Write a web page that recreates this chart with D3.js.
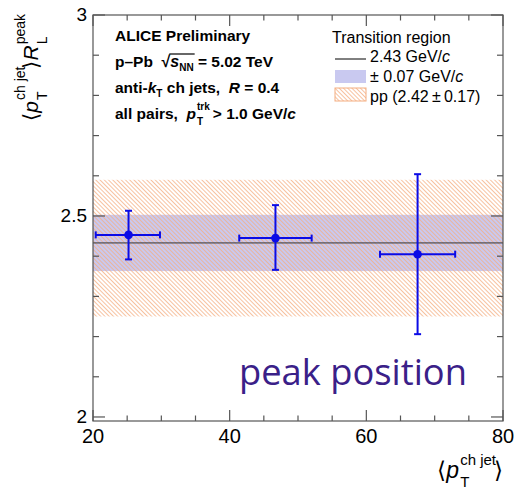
<!DOCTYPE html>
<html>
<head>
<meta charset="utf-8">
<script src="https://cdn.jsdelivr.net/npm/d3@7"></script>
<style>
  body { margin: 0; background: #fff; }
  text { font-family: "Liberation Sans", Arial, sans-serif; white-space: pre; }
</style>
</head>
<body>
<svg id="chart" width="515" height="489"></svg>
<script>
// data
const ptJet = [25.2, 46.7, 67.5];
const ptLow = [20.4, 41.4, 62.0];
const ptHigh = [29.8, 52.0, 73.0];
const peakVal = [2.453, 2.445, 2.405];
const peakLow = [2.392, 2.366, 2.206];
const peakHigh = [2.513, 2.527, 2.604];

const transMean = 2.433;
const transErr = 0.07;
const ppMean = 2.42;
const ppErr = 0.17;

const xTicks = [20, 40, 60, 80];
const yTicks = [2, 2.5, 3];

const svg = d3.select("#chart");
const pLeft = 93, pRight = 503, pTop = 15, pBottom = 421;

const x = d3.scaleLinear().domain([20, 80]).range([pLeft, pRight]);
const y = d3.scaleLinear().domain([1.99, 3]).range([pBottom, pTop]);

// hatch pattern
svg.append("defs").append("pattern")
  .attr("id", "hatch")
  .attr("patternUnits", "userSpaceOnUse")
  .attr("width", 3).attr("height", 3)
  .attr("patternTransform", "rotate(-45)")
  .append("line")
    .attr("x1", 0.5).attr("y1", 0).attr("x2", 0.5).attr("y2", 3)
    .attr("stroke", "#f4ad80").attr("stroke-width", 0.75);

// blue band, then hatched pp band on top
svg.append("rect")
  .attr("x", pLeft).attr("width", pRight - pLeft)
  .attr("y", y(transMean + transErr))
  .attr("height", y(transMean - transErr) - y(transMean + transErr))
  .attr("fill", "#c9c9f0");

svg.append("rect")
  .attr("x", pLeft).attr("width", pRight - pLeft)
  .attr("y", y(ppMean + ppErr))
  .attr("height", y(ppMean - ppErr) - y(ppMean + ppErr))
  .attr("fill", "url(#hatch)");

svg.append("line")
  .attr("x1", pLeft).attr("x2", pRight)
  .attr("y1", y(transMean)).attr("y2", y(transMean))
  .attr("stroke", "#333").attr("stroke-width", 1);

// axes (ROOT style: ticks inside, on all four sides)
const minorX = d3.range(20, 80.1, 5);
const minorY = d3.range(2, 3.01, 0.1);
const frame = svg.append("g").attr("stroke", "#555").attr("stroke-width", 1.2);

frame.append("rect").attr("x", pLeft).attr("y", pTop)
  .attr("width", pRight - pLeft).attr("height", pBottom - pTop).attr("fill", "none");

minorX.forEach(v => {
  const major = xTicks.includes(Math.round(v));
  const len = major ? 11 : 5.5;
  frame.append("line").attr("x1", x(v)).attr("x2", x(v)).attr("y1", pBottom).attr("y2", pBottom - len);
  frame.append("line").attr("x1", x(v)).attr("x2", x(v)).attr("y1", pTop).attr("y2", pTop + len);
});
minorY.forEach(v => {
  const major = Math.abs(v * 2 - Math.round(v * 2)) < 1e-6;
  const len = major ? 12 : 6;
  frame.append("line").attr("y1", y(v)).attr("y2", y(v)).attr("x1", pLeft).attr("x2", pLeft + len);
  frame.append("line").attr("y1", y(v)).attr("y2", y(v)).attr("x1", pRight).attr("x2", pRight - len);
});

svg.append("g").selectAll("text").data(xTicks).join("text")
  .attr("x", d => x(d)).attr("y", pBottom + 22)
  .attr("text-anchor", "middle").attr("font-size", 20)
  .text(d => d);

svg.append("g").selectAll("text").data(yTicks).join("text")
  .attr("x", pLeft - 6).attr("y", d => y(d) + 6)
  .attr("text-anchor", "end").attr("font-size", 19)
  .text(d => d);

// data points with error bars
const pts = svg.append("g").attr("stroke", "#0b0be6").attr("stroke-width", 2);
ptJet.forEach((v, i) => {
  pts.append("line").attr("x1", x(ptLow[i])).attr("x2", x(ptHigh[i]))
    .attr("y1", y(peakVal[i])).attr("y2", y(peakVal[i]));
  pts.append("line").attr("x1", x(v)).attr("x2", x(v))
    .attr("y1", y(peakLow[i])).attr("y2", y(peakHigh[i]));
  [ptLow[i], ptHigh[i]].forEach(e => pts.append("line")
    .attr("x1", x(e)).attr("x2", x(e))
    .attr("y1", y(peakVal[i]) - 3.5).attr("y2", y(peakVal[i]) + 3.5));
  [peakLow[i], peakHigh[i]].forEach(e => pts.append("line")
    .attr("x1", x(v) - 3.5).attr("x2", x(v) + 3.5)
    .attr("y1", y(e)).attr("y2", y(e)));
});
svg.append("g").selectAll("circle").data(ptJet).join("circle")
  .attr("cx", d => x(d)).attr("cy", (d, i) => y(peakVal[i]))
  .attr("r", 4.3).attr("fill", "#0b0be6");

// draws a run of text pieces; {t, size, it, dy, stack:[sup, sub]}
function pieces(g, parts, x0, base, opts) {
  let cx = x0;
  parts.forEach(p => {
    const w = opts && opts.bold ? "bold" : "normal";
    if (p.stack) {
      const s1 = g.append("text").attr("x", cx).attr("y", base - (p.up || 9))
        .attr("font-size", p.ssize || 11).attr("font-weight", w).text(p.stack[0]);
      const s2 = g.append("text").attr("x", cx).attr("y", base + (p.down || 5))
        .attr("font-size", p.ssize || 11).attr("font-weight", w).text(p.stack[1]);
      cx += Math.max(s1.node().getComputedTextLength(), s2.node().getComputedTextLength()) + (p.gap || 1);
      return;
    }
    const t = g.append("text").attr("x", cx).attr("y", base + (p.dy || 0))
      .attr("font-size", p.size || (opts && opts.size) || 16)
      .attr("font-weight", w)
      .attr("font-style", p.it ? "italic" : "normal")
      .text(p.t);
    p.node = t.node();
    cx += t.node().getComputedTextLength() + (p.gap || 0);
  });
  return cx;
}

// ALICE label block
const lab = svg.append("g").attr("fill", "#000");
const bopt = {bold: true, size: 15.5};
pieces(lab, [{t: "ALICE Preliminary"}], 115, 41, bopt);
const sq = [{t: "p\u2013Pb  ", size: 15.5}, {t: "\u221A", size: 16}, {t: "s", it: true, size: 16},
  {t: "NN", size: 10, dy: 4}, {t: " = 5.02 TeV", size: 15.5}];
pieces(lab, sq, 115, 67, bopt);
const sqStart = +d3.select(sq[1].node).attr("x") + sq[1].node.getComputedTextLength() - 1;
const sqEnd = +d3.select(sq[3].node).attr("x") + sq[3].node.getComputedTextLength() + 1;
lab.append("line").attr("x1", sqStart).attr("x2", sqEnd).attr("y1", 54).attr("y2", 54)
  .attr("stroke", "#000").attr("stroke-width", 1.2);
pieces(lab, [{t: "anti-"}, {t: "k", it: true}, {t: "T", size: 10, dy: 4}, {t: " ch jets,  "},
  {t: "R", it: true}, {t: " = 0.4"}], 115, 93, bopt);
pieces(lab, [{t: "all pairs,  "}, {t: "p", it: true, gap: 1}, {stack: ["trk", "T"], ssize: 10, up: 9, down: 6, gap: 3},
  {t: "> 1.0 GeV/"}, {t: "c", it: true}], 115, 119, bopt);

// legend
const leg = svg.append("g");
pieces(leg, [{t: "Transition region"}], 332, 43, {size: 16});
leg.append("line").attr("x1", 335).attr("x2", 366).attr("y1", 59).attr("y2", 59)
  .attr("stroke", "#000").attr("stroke-width", 1);
pieces(leg, [{t: "2.43 GeV/"}, {t: "c", it: true}], 370, 62, {size: 16});
leg.append("rect").attr("x", 335).attr("y", 70).attr("width", 31).attr("height", 13)
  .attr("fill", "#c9c9f0");
pieces(leg, [{t: "\u00B1 0.07 GeV/"}, {t: "c", it: true}], 370, 82, {size: 16});
leg.append("rect").attr("x", 335).attr("y", 88).attr("width", 31).attr("height", 13)
  .attr("fill", "url(#hatch)").attr("stroke", "#f4ad80").attr("stroke-width", 1);
pieces(leg, [{t: "pp (2.42\u2009\u00B1\u20090.17)"}], 370, 102, {size: 16});

// big annotation
svg.append("text").attr("x", 239).attr("y", 385)
  .style("font-family", "'Open Sans', sans-serif").attr("font-size", 36.3)
  .attr("fill", "#3a2088").text("peak position");

// x axis title, right aligned
const xt = svg.append("g");
const xEnd = pieces(xt, [{t: "\u27E8", size: 23}, {t: "p", it: true, size: 23, gap: 1},
  {stack: ["ch jet", "T"], ssize: 15, up: 13, down: 9, gap: -2}, {t: "\u27E9", size: 23}], 0, 478, {});
xt.attr("transform", `translate(${pRight - xEnd},0)`);

// y axis title, rotated, right aligned to top of the axis
const yt = svg.append("g");
const yEnd = pieces(yt, [{t: "\u27E8", size: 21}, {t: "p", it: true, size: 21, gap: 1},
  {stack: ["ch jet", "T"], ssize: 14, up: 13, down: 9, gap: -2}, {t: "\u27E9", size: 21},
  {t: "R", it: true, size: 21, gap: 1}, {stack: ["peak", "L"], ssize: 14, up: 13, down: 9}], 0, 0, {});
yt.attr("transform", `translate(38,${pTop - 2 + yEnd}) rotate(-90)`);
</script>
</body>
</html>
